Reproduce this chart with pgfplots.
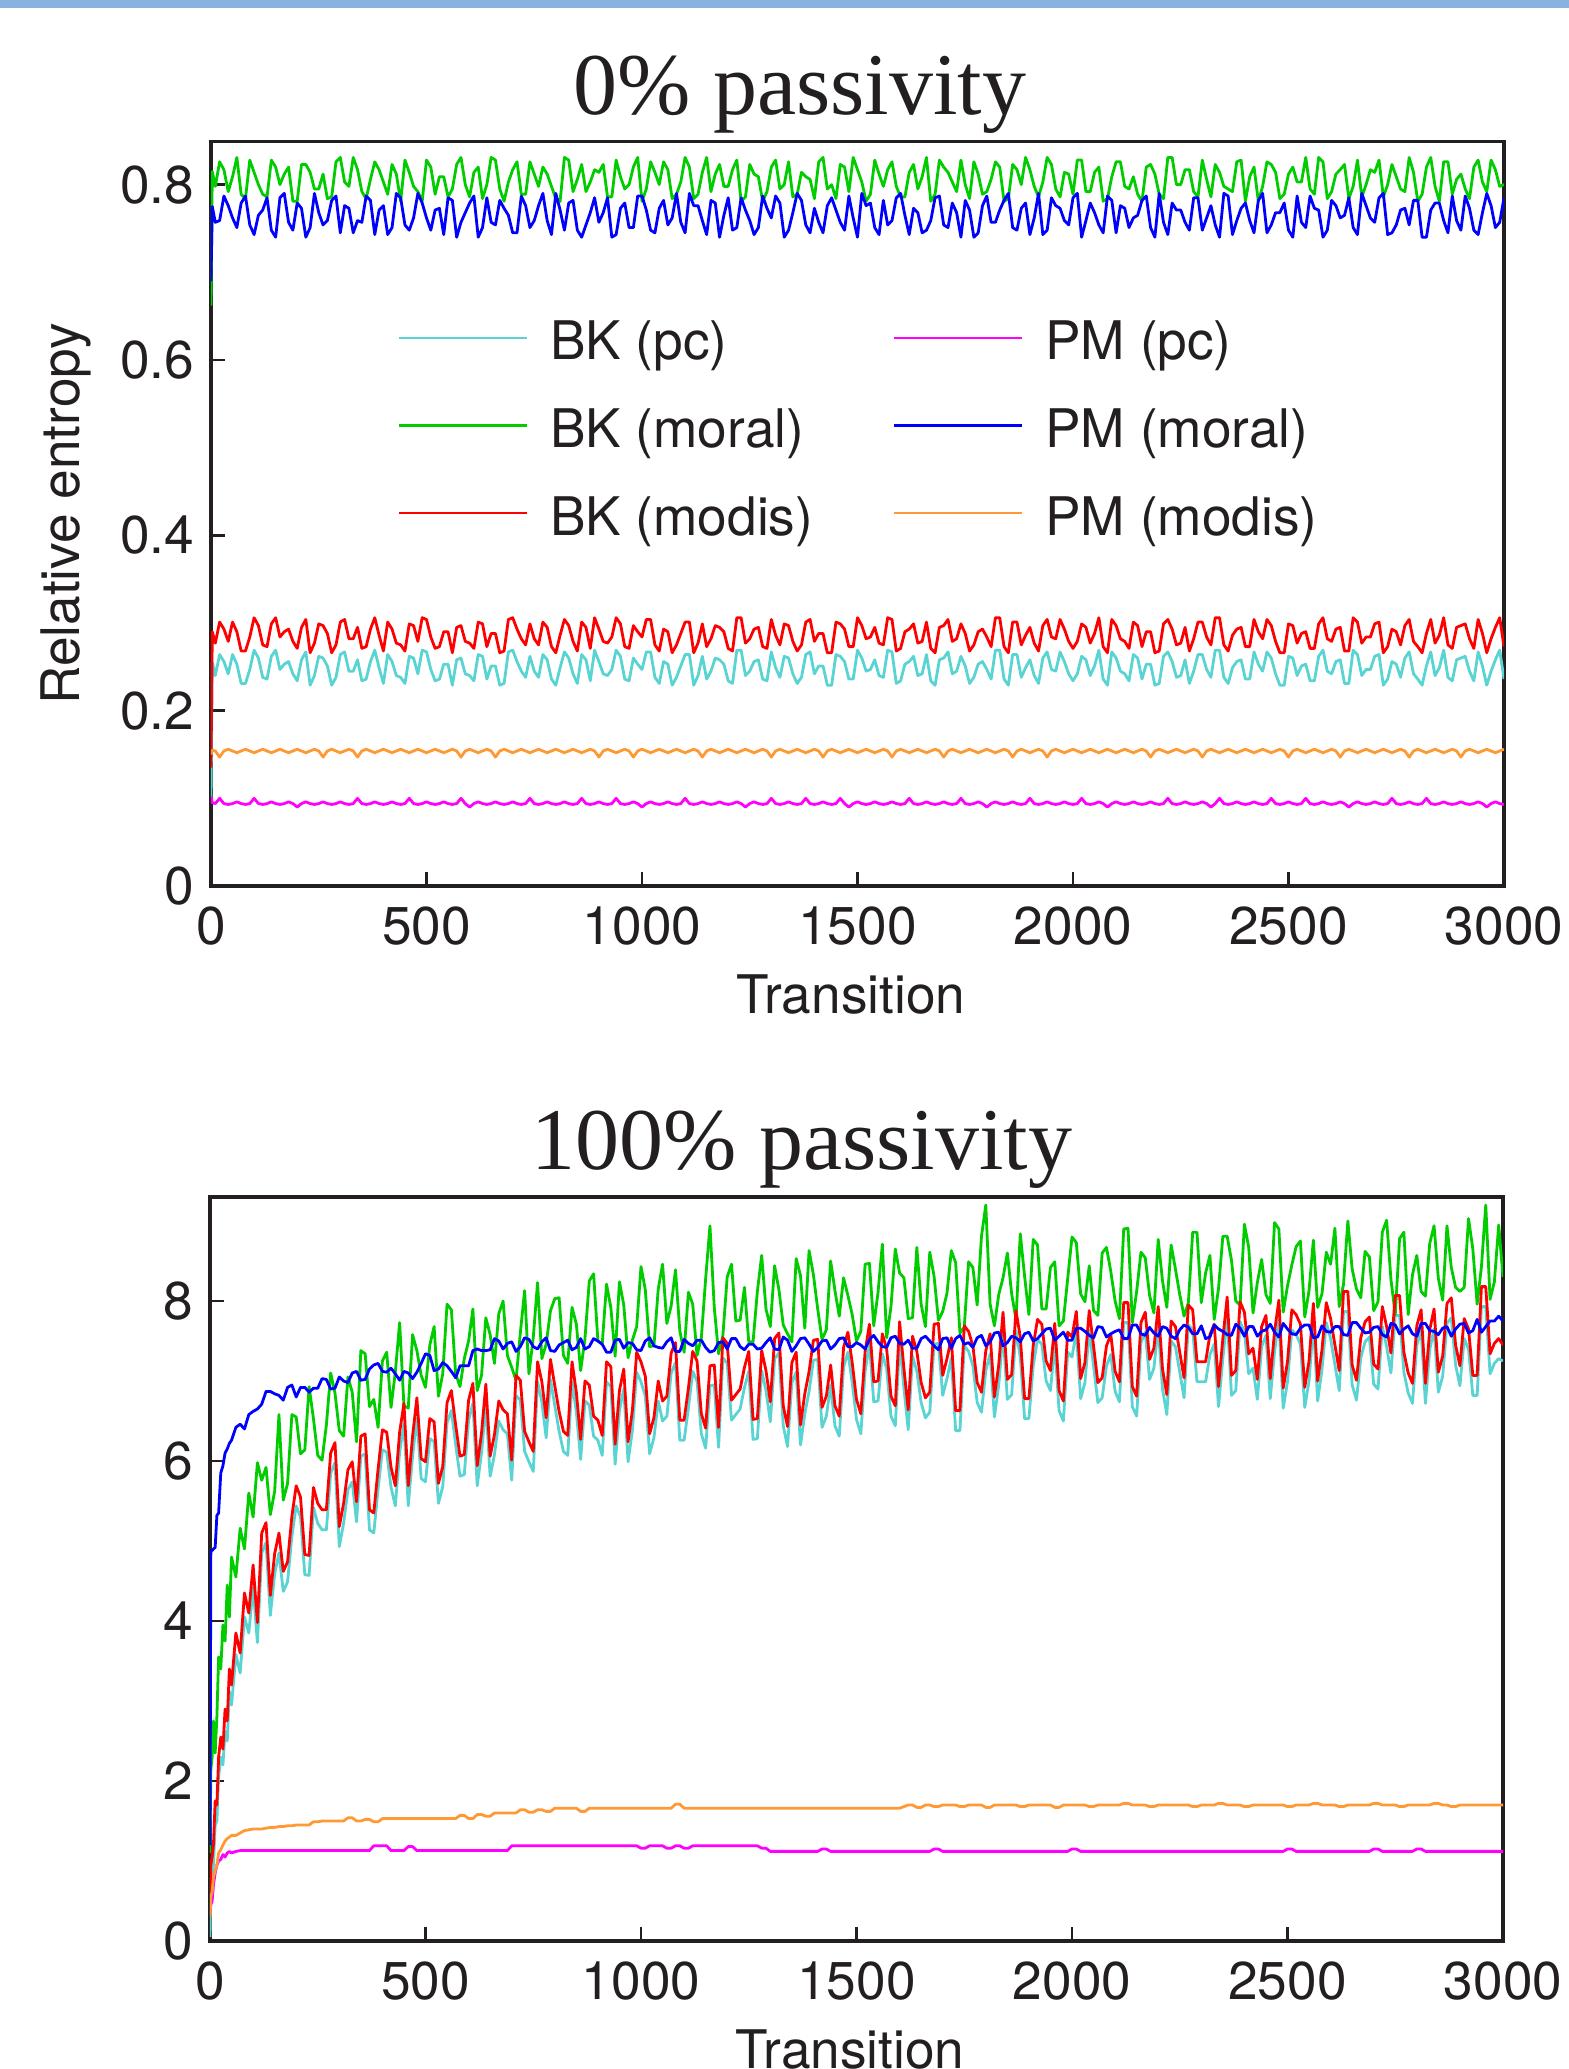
\documentclass[border=0pt]{standalone}
\usepackage{fontspec}
\setmainfont{Liberation Serif}
\newfontfamily\hv{TeX Gyre Heros}
\usepackage{pgfplots}
\usepackage{pgfplotstable}
\pgfplotsset{compat=1.18}
\definecolor{cbkpc}{RGB}{90,211,211}
\definecolor{cbkmoral}{RGB}{0,204,0}
\definecolor{cbkmodis}{RGB}{255,0,0}
\definecolor{cpmpc}{RGB}{255,0,255}
\definecolor{cpmmoral}{RGB}{0,0,255}
\definecolor{cpmmodis}{RGB}{255,153,51}
\definecolor{axisgray}{RGB}{35,31,32}
\definecolor{barblue}{RGB}{135,179,222}

\pgfplotstableread{
x bkpc bkmoral bkmodis pmpc pmmoral pmmodis
0 0.100 0.662 0.135 0.102 0.690 0.150
3 0.255 0.815 0.290 0.095 0.775 0.155
10 .240 .798 .277 .094 .757 .154
20 .264 .826 .301 .100 .759 .147
30 .256 .817 .293 .094 .787 .154
40 .242 .792 .279 .093 .776 .156
50 .264 .809 .301 .094 .762 .154
60 .253 .831 .290 .096 .751 .152
70 .231 .789 .268 .094 .779 .154
80 .231 .784 .268 .093 .787 .156
90 .247 .828 .284 .094 .754 .154
100 .269 .814 .306 .100 .743 .152
110 .260 .800 .297 .094 .765 .154
120 .238 .789 .275 .093 .771 .156
130 .236 .786 .273 .094 .785 .154
140 .262 .828 .299 .096 .748 .152
150 .269 .820 .306 .094 .740 .154
160 .247 .800 .284 .093 .785 .156
170 .253 .812 .290 .094 .790 .154
180 .256 .820 .293 .096 .757 .152
190 .242 .781 .279 .094 .748 .154
200 .234 .781 .271 .090 .779 .156
210 .258 .823 .295 .094 .773 .154
220 .267 .823 .304 .096 .740 .152
230 .229 .814 .266 .094 .751 .154
240 .240 .795 .277 .093 .790 .156
250 .262 .795 .299 .094 .768 .154
260 .260 .812 .297 .096 .754 .147
270 .251 .784 .288 .094 .759 .154
280 .229 .786 .266 .093 .782 .156
290 .238 .826 .275 .094 .787 .154
300 .264 .831 .301 .096 .745 .152
310 .267 .803 .304 .094 .776 .154
320 .245 .798 .282 .093 .773 .156
330 .245 .831 .282 .094 .745 .154
340 .258 .817 .295 .100 .759 .147
350 .234 .792 .271 .094 .757 .154
360 .236 .784 .273 .093 .787 .156
370 .256 .806 .293 .094 .782 .154
380 .269 .826 .306 .096 .743 .152
390 .249 .817 .286 .094 .771 .154
400 .231 .803 .268 .093 .776 .156
410 .264 .789 .301 .094 .743 .154
420 .256 .823 .293 .096 .751 .152
430 .240 .812 .277 .094 .790 .154
440 .238 .781 .275 .093 .785 .156
450 .231 .828 .268 .094 .754 .154
460 .262 .814 .299 .100 .748 .152
470 .260 .798 .297 .094 .762 .154
480 .242 .792 .279 .093 .790 .156
490 .269 .781 .306 .094 .779 .154
500 .267 .828 .304 .096 .762 .152
510 .247 .820 .284 .094 .748 .154
520 .234 .789 .271 .093 .771 .156
530 .236 .809 .273 .094 .773 .154
540 .253 .809 .290 .096 .743 .152
550 .253 .786 .290 .094 .785 .154
560 .229 .795 .266 .093 .782 .156
570 .258 .823 .295 .094 .740 .154
580 .260 .831 .297 .100 .757 .147
590 .242 .800 .279 .094 .768 .154
600 .240 .786 .277 .090 .779 .156
610 .234 .814 .271 .094 .787 .154
620 .264 .820 .301 .096 .740 .152
630 .262 .784 .299 .094 .751 .154
640 .236 .800 .273 .093 .785 .156
650 .251 .831 .288 .094 .757 .154
660 .251 .828 .288 .096 .754 .147
670 .229 .795 .266 .094 .782 .154
680 .231 .781 .268 .093 .773 .156
690 .267 .803 .304 .094 .765 .154
700 .269 .817 .306 .096 .745 .152
710 .256 .826 .293 .094 .745 .154
720 .245 .789 .282 .093 .787 .156
730 .238 .789 .275 .094 .776 .154
740 .262 .826 .299 .100 .751 .152
750 .245 .812 .282 .094 .759 .154
760 .238 .798 .275 .093 .776 .156
770 .264 .820 .301 .094 .790 .154
780 .258 .812 .295 .096 .759 .152
790 .236 .798 .273 .094 .743 .154
800 .229 .784 .266 .093 .790 .156
810 .249 .781 .286 .094 .771 .154
820 .267 .831 .304 .096 .748 .152
830 .260 .828 .297 .094 .779 .154
840 .242 .792 .279 .093 .782 .156
850 .231 .806 .268 .094 .748 .154
860 .264 .823 .301 .100 .740 .152
870 .258 .792 .295 .094 .754 .154
880 .234 .803 .271 .093 .768 .156
890 .269 .817 .306 .094 .785 .154
900 .256 .814 .293 .096 .757 .147
910 .242 .823 .279 .094 .768 .154
920 .240 .786 .277 .093 .785 .156
930 .247 .786 .284 .094 .740 .154
940 .269 .828 .306 .100 .743 .152
950 .262 .809 .299 .094 .773 .154
960 .236 .795 .273 .093 .779 .156
970 .234 .800 .271 .094 .751 .154
980 .260 .820 .297 .096 .751 .147
990 .253 .831 .290 .094 .787 .154
1000 .247 .781 .284 .090 .787 .156
1010 .267 .795 .304 .094 .771 .154
1020 .267 .826 .304 .096 .748 .152
1030 .238 .814 .275 .094 .745 .154
1040 .231 .800 .268 .093 .773 .156
1050 .256 .826 .293 .094 .782 .154
1060 .253 .817 .290 .096 .754 .152
1070 .229 .784 .266 .094 .762 .154
1080 .238 .789 .275 .093 .790 .156
1090 .251 .803 .288 .094 .757 .154
1100 .264 .831 .301 .100 .745 .152
1110 .264 .820 .301 .094 .790 .154
1120 .229 .784 .266 .093 .776 .156
1130 .240 .789 .277 .094 .776 .154
1140 .262 .814 .299 .096 .759 .147
1150 .236 .831 .273 .094 .743 .154
1160 .245 .792 .282 .093 .782 .156
1170 .260 .812 .297 .094 .779 .154
1180 .258 .823 .295 .096 .740 .152
1190 .253 .798 .290 .094 .765 .154
1200 .234 .798 .271 .093 .785 .156
1210 .231 .817 .268 .094 .748 .154
1220 .269 .828 .306 .096 .751 .152
1230 .269 .781 .306 .094 .785 .154
1240 .240 .786 .277 .090 .771 .156
1250 .245 .823 .282 .094 .759 .154
1260 .256 .812 .293 .096 .743 .152
1270 .258 .809 .295 .094 .751 .154
1280 .236 .781 .273 .093 .787 .156
1290 .234 .792 .271 .094 .773 .154
1300 .267 .820 .304 .100 .762 .147
1310 .249 .828 .286 .094 .787 .154
1320 .238 .795 .275 .093 .779 .156
1330 .262 .800 .299 .094 .740 .154
1340 .260 .826 .297 .096 .748 .152
1350 .242 .786 .279 .094 .768 .154
1360 .231 .789 .268 .093 .790 .156
1370 .238 .814 .275 .094 .782 .154
1380 .264 .809 .301 .100 .754 .152
1390 .267 .806 .304 .094 .745 .154
1400 .242 .784 .279 .093 .773 .156
1410 .251 .826 .288 .094 .757 .154
1420 .251 .831 .288 .096 .745 .147
1430 .229 .795 .266 .094 .776 .154
1440 .229 .800 .266 .093 .785 .156
1450 .264 .784 .301 .094 .771 .154
1460 .262 .823 .299 .100 .757 .152
1470 .256 .820 .293 .094 .748 .154
1480 .236 .792 .273 .090 .787 .156
1490 .236 .831 .273 .094 .762 .154
1500 .269 .817 .306 .096 .740 .152
1510 .260 .803 .297 .094 .790 .154
1520 .245 .781 .282 .093 .776 .156
1530 .247 .789 .284 .094 .779 .154
1540 .258 .828 .295 .096 .751 .152
1550 .240 .812 .277 .094 .743 .154
1560 .238 .798 .275 .093 .782 .156
1570 .269 .817 .306 .094 .754 .154
1580 .267 .826 .304 .096 .759 .147
1590 .231 .798 .268 .094 .785 .154
1600 .234 .786 .271 .093 .790 .156
1610 .253 .786 .290 .094 .765 .154
1620 .256 .814 .293 .100 .743 .152
1630 .262 .823 .299 .094 .773 .154
1640 .240 .795 .277 .093 .768 .156
1650 .242 .809 .279 .094 .745 .154
1660 .264 .831 .301 .096 .748 .152
1670 .234 .781 .271 .094 .759 .154
1680 .229 .789 .266 .093 .785 .156
1690 .258 .828 .295 .094 .787 .154
1700 .260 .820 .297 .096 .754 .147
1710 .267 .814 .304 .094 .751 .154
1720 .242 .803 .279 .093 .779 .156
1730 .245 .792 .282 .094 .768 .154
1740 .262 .828 .299 .100 .740 .152
1750 .251 .800 .288 .094 .782 .154
1760 .231 .784 .268 .093 .771 .156
1770 .238 .826 .275 .094 .740 .154
1780 .253 .812 .290 .096 .745 .152
1790 .256 .789 .293 .094 .776 .154
1800 .247 .792 .284 .090 .787 .156
1810 .236 .806 .273 .094 .757 .154
1820 .269 .826 .306 .096 .757 .152
1830 .269 .820 .306 .094 .771 .154
1840 .236 .781 .273 .093 .782 .156
1850 .229 .784 .266 .094 .790 .154
1860 .264 .823 .301 .096 .751 .147
1870 .264 .817 .301 .094 .748 .154
1880 .238 .800 .275 .093 .773 .156
1890 .249 .831 .286 .094 .779 .154
1900 .258 .817 .295 .100 .743 .152
1910 .240 .798 .277 .094 .762 .154
1920 .231 .786 .268 .093 .790 .156
1930 .260 .803 .297 .094 .743 .154
1940 .267 .831 .304 .096 .748 .147
1950 .247 .823 .284 .094 .785 .154
1960 .245 .795 .282 .093 .776 .156
1970 .267 .786 .304 .094 .773 .154
1980 .256 .814 .293 .096 .759 .152
1990 .242 .812 .279 .094 .754 .154
2000 .234 .789 .271 .093 .785 .156
2010 .242 .828 .279 .094 .790 .154
2020 .262 .828 .299 .100 .740 .152
2030 .258 .792 .295 .094 .759 .154
2040 .240 .792 .277 .093 .779 .156
2050 .251 .814 .288 .094 .768 .154
2060 .269 .820 .306 .096 .754 .152
2070 .236 .781 .273 .094 .745 .154
2080 .229 .784 .266 .090 .787 .156
2090 .267 .809 .304 .094 .782 .154
2100 .260 .826 .297 .096 .745 .152
2110 .245 .826 .282 .094 .776 .154
2120 .242 .798 .279 .093 .773 .156
2130 .234 .795 .271 .094 .751 .154
2140 .264 .809 .301 .096 .762 .152
2150 .260 .789 .297 .094 .765 .154
2160 .236 .781 .273 .093 .782 .156
2170 .253 .820 .290 .094 .787 .154
2180 .253 .823 .290 .096 .751 .147
2190 .229 .812 .266 .094 .740 .154
2200 .231 .789 .268 .093 .790 .156
2210 .262 .784 .299 .094 .757 .154
2220 .267 .831 .304 .100 .743 .152
2230 .256 .831 .293 .094 .779 .154
2240 .238 .800 .275 .093 .771 .156
2250 .240 .800 .277 .094 .771 .154
2260 .258 .817 .295 .096 .757 .152
2270 .231 .817 .268 .094 .748 .154
2280 .245 .792 .282 .093 .785 .156
2290 .264 .786 .301 .094 .785 .154
2300 .264 .828 .301 .096 .748 .147
2310 .247 .806 .284 .094 .762 .154
2320 .238 .786 .275 .090 .776 .156
2330 .269 .823 .306 .094 .754 .154
2340 .269 .814 .306 .100 .740 .152
2350 .238 .798 .275 .094 .790 .154
2360 .231 .795 .268 .093 .787 .156
2370 .249 .792 .286 .094 .743 .154
2380 .256 .826 .293 .096 .759 .152
2390 .258 .828 .295 .094 .773 .154
2400 .236 .781 .273 .093 .779 .156
2410 .236 .809 .273 .094 .759 .154
2420 .267 .820 .304 .096 .745 .152
2430 .253 .781 .290 .094 .782 .154
2440 .245 .798 .282 .093 .790 .156
2450 .267 .826 .304 .094 .745 .154
2460 .260 .823 .297 .100 .754 .152
2470 .242 .814 .279 .094 .768 .154
2480 .229 .784 .266 .093 .768 .156
2490 .229 .789 .266 .094 .779 .154
2500 .262 .812 .299 .096 .748 .147
2510 .260 .820 .297 .094 .740 .154
2520 .240 .803 .277 .093 .787 .156
2530 .251 .803 .288 .094 .757 .154
2540 .253 .831 .290 .100 .751 .152
2550 .234 .795 .271 .094 .787 .154
2560 .234 .789 .271 .093 .773 .156
2570 .262 .831 .299 .094 .771 .154
2580 .269 .826 .306 .096 .740 .152
2590 .245 .784 .282 .094 .748 .154
2600 .242 .792 .279 .093 .782 .156
2610 .256 .812 .293 .094 .776 .154
2620 .258 .817 .295 .096 .762 .147
2630 .231 .823 .268 .094 .765 .154
2640 .231 .784 .268 .090 .785 .156
2650 .269 .798 .306 .094 .751 .154
2660 .264 .828 .301 .096 .743 .152
2670 .240 .786 .277 .094 .790 .154
2680 .247 .800 .284 .093 .776 .156
2690 .247 .817 .284 .094 .762 .154
2700 .262 .814 .299 .096 .757 .152
2710 .264 .828 .301 .094 .785 .154
2720 .229 .786 .266 .093 .790 .156
2730 .236 .800 .273 .094 .743 .154
2740 .256 .823 .293 .100 .745 .152
2750 .253 .809 .290 .094 .754 .154
2760 .238 .795 .275 .093 .771 .156
2770 .260 .792 .297 .094 .773 .154
2780 .267 .831 .304 .096 .754 .147
2790 .242 .814 .279 .094 .782 .154
2800 .236 .781 .273 .093 .782 .156
2810 .229 .789 .266 .094 .740 .154
2820 .251 .820 .288 .100 .740 .152
2830 .267 .831 .304 .094 .771 .154
2840 .240 .798 .277 .093 .779 .156
2850 .249 .781 .286 .094 .779 .154
2860 .269 .826 .306 .096 .759 .152
2870 .238 .826 .275 .094 .745 .154
2880 .234 .789 .271 .093 .787 .156
2890 .258 .806 .295 .094 .759 .154
2900 .260 .812 .297 .096 .748 .147
2910 .262 .795 .299 .094 .787 .154
2920 .245 .784 .282 .093 .773 .156
2930 .234 .820 .271 .094 .748 .154
2940 .267 .828 .304 .096 .743 .152
2950 .251 .803 .288 .094 .768 .154
2960 .229 .792 .266 .090 .790 .156
2970 .245 .828 .282 .094 .776 .154
2980 .258 .817 .295 .096 .751 .152
2990 .269 .798 .306 .094 .757 .154
3000 .236 .800 .273 .093 .785 .156
}\toptable

\pgfplotstableread{
x bkpc bkmoral bkmodis pmpc pmmoral pmmodis
0 0.05 1.10 0.50 0.35 1.20 0.30
2 0.75 2.15 0.95 0.45 4.88 0.55
5 0.85 2.30 1.05 0.50 4.88 0.62
8 0.95 2.75 1.20 0.70 4.90 0.80
12 1.45 2.35 1.75 0.85 4.92 0.88
16 1.50 2.80 1.70 0.95 5.32 0.95
20 2.05 3.55 2.30 1.00 5.35 1.10
25 2.30 3.40 2.55 1.02 5.85 1.14
30 2.20 3.95 2.40 1.08 5.94 1.20
35 2.62 3.75 2.90 1.05 6.10 1.25
40 2.50 4.45 2.75 1.10 6.15 1.28
45 3.12 4.05 3.40 1.12 6.22 1.30
50 2.95 4.80 3.20 1.10 6.26 1.32
60 3.58 4.55 3.85 1.12 6.42 1.32
70 3.35 5.16 3.60 1.13 6.46 1.35
80 4.05 4.90 4.35 1.13 6.40 1.38
90 3.85 5.60 4.10 1.13 6.58 1.39
100 4.42 5.30 4.70 1.13 6.62 1.40
110 3.73 5.98 3.98 1.13 6.65 1.40
120 4.85 5.76 5.10 1.13 6.71 1.40
130 4.98 5.92 5.23 1.13 6.87 1.41
140 4.07 5.33 4.32 1.13 6.87 1.42
150 4.59 5.62 4.84 1.13 6.84 1.42
160 4.85 6.58 5.10 1.13 6.82 1.43
170 4.37 5.51 4.62 1.13 6.76 1.43
180 4.49 5.72 4.74 1.13 6.92 1.44
190 5.06 6.58 5.31 1.13 6.95 1.44
200 5.44 6.55 5.69 1.13 6.80 1.45
210 5.30 6.09 5.55 1.13 6.92 1.45
220 4.58 6.14 4.83 1.13 6.92 1.45
230 4.57 6.93 4.82 1.13 6.86 1.45
240 5.42 6.53 5.67 1.13 6.91 1.49
250 5.22 6.07 5.47 1.13 6.91 1.49
260 5.14 6.01 5.39 1.13 7.03 1.50
270 5.14 6.45 5.39 1.13 7.02 1.50
280 5.85 7.10 6.10 1.13 6.90 1.50
290 5.98 6.85 6.23 1.13 6.91 1.50
300 4.93 6.38 5.18 1.13 7.05 1.50
310 5.22 6.31 5.47 1.13 7.00 1.50
320 5.64 7.05 5.89 1.13 6.98 1.54
330 5.74 6.86 5.99 1.13 7.10 1.54
340 5.24 6.24 5.49 1.13 7.12 1.50
350 6.06 7.38 6.31 1.13 7.01 1.50
360 6.09 7.34 6.34 1.13 7.02 1.52
370 5.14 6.68 5.39 1.13 7.15 1.52
380 5.10 6.77 5.35 1.19 7.20 1.49
390 5.65 6.42 5.90 1.19 7.22 1.49
400 6.14 7.25 6.39 1.19 7.12 1.53
410 6.11 7.36 6.36 1.19 7.11 1.53
420 5.67 6.67 5.92 1.13 7.16 1.53
430 5.44 7.11 5.69 1.13 7.09 1.53
440 6.11 7.73 6.36 1.13 7.01 1.53
450 6.47 6.69 6.72 1.13 7.12 1.53
460 5.44 6.66 5.69 1.18 7.10 1.53
470 6.06 7.58 6.31 1.18 7.03 1.53
480 6.54 7.38 6.79 1.13 7.11 1.53
490 5.78 7.07 6.03 1.13 7.22 1.53
500 5.74 6.92 5.99 1.13 7.34 1.53
510 6.28 7.45 6.53 1.13 7.32 1.53
520 6.24 7.68 6.49 1.13 7.13 1.53
530 5.47 6.81 5.72 1.13 7.15 1.53
540 5.68 7.09 5.93 1.13 7.23 1.53
550 6.48 7.96 6.73 1.13 7.19 1.53
560 6.63 7.89 6.88 1.13 7.12 1.53
570 6.20 7.09 6.45 1.13 7.04 1.53
580 5.81 6.93 6.06 1.13 7.19 1.57
590 5.83 7.28 6.08 1.13 7.19 1.57
600 6.51 7.50 6.76 1.13 7.19 1.53
610 6.72 7.90 6.97 1.13 7.38 1.53
620 5.69 6.88 5.94 1.13 7.40 1.58
630 6.10 7.07 6.35 1.13 7.38 1.58
640 6.71 7.79 6.96 1.13 7.38 1.56
650 5.81 7.58 6.06 1.13 7.39 1.56
660 6.08 7.22 6.33 1.13 7.53 1.60
670 6.50 7.84 6.75 1.13 7.50 1.60
680 6.39 8.00 6.64 1.13 7.40 1.60
690 6.34 7.32 6.59 1.13 7.47 1.60
700 5.76 7.17 6.01 1.19 7.49 1.60
710 6.82 7.01 7.07 1.19 7.37 1.60
720 6.76 7.60 7.01 1.19 7.43 1.64
730 6.12 8.13 6.37 1.19 7.54 1.64
740 5.99 7.09 6.24 1.19 7.52 1.61
750 5.87 7.54 6.12 1.19 7.43 1.61
760 6.99 8.23 7.24 1.19 7.40 1.64
770 6.74 7.28 6.99 1.19 7.49 1.64
780 6.29 7.46 6.54 1.19 7.54 1.62
790 7.02 7.88 7.27 1.19 7.38 1.62
800 6.69 8.03 6.94 1.19 7.37 1.66
810 6.37 8.04 6.62 1.19 7.45 1.66
820 6.12 7.32 6.37 1.19 7.48 1.66
830 6.07 7.22 6.32 1.19 7.51 1.66
840 6.99 7.92 7.24 1.19 7.39 1.66
850 6.61 7.71 6.86 1.19 7.42 1.66
860 6.02 7.13 6.27 1.19 7.53 1.62
870 6.75 7.53 7.00 1.19 7.40 1.62
880 6.70 8.25 6.95 1.19 7.43 1.66
890 6.31 8.34 6.56 1.19 7.53 1.66
900 6.26 7.50 6.51 1.19 7.50 1.66
910 6.07 7.46 6.32 1.19 7.46 1.66
920 6.99 8.21 7.24 1.19 7.36 1.66
930 6.93 7.92 7.18 1.19 7.36 1.66
940 5.96 7.31 6.21 1.19 7.51 1.66
950 6.63 8.24 6.88 1.19 7.52 1.66
960 6.90 7.95 7.15 1.19 7.41 1.66
970 5.99 7.29 6.24 1.19 7.48 1.66
980 6.38 7.51 6.63 1.19 7.47 1.66
990 7.11 7.68 7.36 1.19 7.39 1.66
1000 6.99 8.43 7.24 1.16 7.38 1.66
1010 6.81 8.14 7.06 1.16 7.50 1.66
1020 6.09 7.43 6.34 1.19 7.54 1.66
1030 6.29 7.44 6.54 1.19 7.44 1.66
1040 6.75 8.15 7.00 1.19 7.42 1.66
1050 6.50 8.46 6.75 1.19 7.41 1.66
1060 6.56 7.72 6.81 1.16 7.49 1.66
1070 7.10 7.94 7.35 1.16 7.54 1.66
1080 7.23 8.39 7.48 1.19 7.37 1.71
1090 6.26 7.63 6.51 1.19 7.37 1.71
1100 6.26 7.36 6.51 1.16 7.52 1.66
1110 6.66 8.11 6.91 1.16 7.47 1.66
1120 7.12 7.96 7.37 1.19 7.44 1.66
1130 7.00 7.32 7.25 1.19 7.51 1.66
1140 6.34 7.54 6.59 1.19 7.51 1.66
1150 6.16 8.28 6.41 1.19 7.42 1.66
1160 6.94 8.94 7.19 1.19 7.36 1.66
1170 6.95 7.92 7.20 1.19 7.38 1.66
1180 6.17 7.34 6.42 1.19 7.48 1.66
1190 7.29 7.57 7.54 1.19 7.49 1.66
1200 7.22 8.30 7.47 1.19 7.40 1.66
1210 6.51 8.46 6.76 1.19 7.53 1.66
1220 6.58 7.75 6.83 1.19 7.53 1.66
1230 6.65 7.76 6.90 1.19 7.43 1.66
1240 6.92 8.17 7.17 1.19 7.39 1.66
1250 7.12 7.49 7.37 1.19 7.46 1.66
1260 6.27 7.49 6.52 1.19 7.46 1.66
1270 6.28 8.12 6.53 1.19 7.40 1.66
1280 7.13 8.57 7.38 1.16 7.41 1.66
1290 6.88 7.90 7.13 1.16 7.48 1.66
1300 6.49 7.68 6.74 1.12 7.54 1.66
1310 7.28 8.44 7.53 1.12 7.40 1.66
1320 7.35 8.14 7.60 1.12 7.39 1.66
1330 6.44 7.70 6.69 1.12 7.55 1.66
1340 6.18 7.59 6.43 1.12 7.51 1.66
1350 6.98 7.49 7.23 1.12 7.37 1.66
1360 7.11 8.53 7.36 1.12 7.44 1.66
1370 6.20 8.32 6.45 1.12 7.53 1.66
1380 6.59 7.66 6.84 1.12 7.54 1.66
1390 6.87 8.63 7.12 1.12 7.46 1.66
1400 7.26 8.33 7.51 1.12 7.37 1.66
1410 7.27 7.90 7.52 1.12 7.42 1.66
1420 6.42 7.52 6.67 1.15 7.50 1.66
1430 6.56 7.64 6.81 1.15 7.51 1.66
1440 6.95 8.50 7.20 1.12 7.40 1.66
1450 6.44 8.13 6.69 1.12 7.45 1.66
1460 6.31 7.81 6.56 1.12 7.53 1.66
1470 7.17 8.29 7.42 1.12 7.54 1.66
1480 7.36 8.07 7.61 1.12 7.43 1.66
1490 6.98 7.83 7.23 1.12 7.43 1.66
1500 6.52 7.50 6.77 1.12 7.48 1.66
1510 6.34 7.62 6.59 1.12 7.45 1.66
1520 7.12 8.46 7.37 1.12 7.40 1.66
1530 7.46 8.47 7.71 1.12 7.52 1.66
1540 6.74 7.69 6.99 1.12 7.57 1.66
1550 6.75 8.11 7.00 1.12 7.49 1.66
1560 7.34 8.71 7.59 1.12 7.43 1.66
1570 7.15 7.54 7.40 1.12 7.42 1.66
1580 6.56 7.93 6.81 1.12 7.54 1.66
1590 6.44 8.65 6.69 1.12 7.56 1.66
1600 7.49 8.35 7.74 1.12 7.47 1.66
1610 6.91 8.29 7.16 1.12 7.46 1.68
1620 6.39 7.78 6.64 1.12 7.51 1.70
1630 7.31 7.79 7.56 1.12 7.41 1.70
1640 7.12 8.67 7.37 1.12 7.41 1.67
1650 6.73 7.96 6.98 1.12 7.53 1.67
1660 6.54 7.68 6.79 1.12 7.56 1.70
1670 6.61 8.61 6.86 1.12 7.50 1.70
1680 7.46 8.31 7.71 1.15 7.44 1.68
1690 7.47 7.76 7.72 1.15 7.39 1.68
1700 6.82 7.87 7.07 1.12 7.53 1.70
1710 7.03 8.10 7.28 1.12 7.54 1.70
1720 7.29 8.63 7.54 1.12 7.41 1.70
1730 6.38 8.48 6.63 1.12 7.53 1.70
1740 6.38 7.60 6.63 1.12 7.57 1.68
1750 7.44 7.67 7.69 1.12 7.46 1.68
1760 7.37 8.49 7.62 1.12 7.48 1.70
1770 7.19 8.42 7.44 1.12 7.42 1.70
1780 6.73 7.95 6.98 1.12 7.54 1.70
1790 6.61 8.81 6.86 1.12 7.57 1.70
1800 7.13 9.20 7.38 1.12 7.44 1.67
1810 7.34 7.96 7.59 1.12 7.49 1.67
1820 6.55 7.69 6.80 1.12 7.60 1.70
1830 6.95 8.08 7.20 1.12 7.61 1.70
1840 7.61 8.29 7.86 1.12 7.44 1.70
1850 6.77 8.60 7.02 1.12 7.48 1.70
1860 6.83 8.09 7.08 1.12 7.56 1.70
1870 7.63 7.77 7.88 1.12 7.54 1.70
1880 7.30 8.84 7.55 1.12 7.49 1.68
1890 6.53 8.31 6.78 1.12 7.59 1.68
1900 6.53 7.83 6.78 1.12 7.61 1.70
1910 7.19 8.77 7.44 1.12 7.50 1.70
1920 7.52 8.70 7.77 1.12 7.53 1.70
1930 7.46 7.90 7.71 1.12 7.59 1.70
1940 7.00 7.90 7.25 1.12 7.65 1.70
1950 6.88 8.42 7.13 1.12 7.66 1.70
1960 7.47 8.49 7.72 1.12 7.51 1.67
1970 6.63 7.69 6.88 1.12 7.56 1.67
1980 6.50 7.75 6.75 1.12 7.61 1.70
1990 7.36 8.28 7.61 1.12 7.51 1.70
2000 7.30 8.80 7.55 1.15 7.51 1.70
2010 7.62 8.73 7.87 1.15 7.66 1.70
2020 6.78 8.09 7.03 1.12 7.66 1.70
2030 6.98 7.99 7.23 1.12 7.62 1.70
2040 7.63 8.44 7.88 1.12 7.57 1.68
2050 7.19 7.88 7.44 1.12 7.54 1.68
2060 6.73 7.82 6.98 1.12 7.68 1.70
2070 6.79 8.60 7.04 1.12 7.67 1.70
2080 7.19 8.67 7.44 1.12 7.55 1.70
2090 7.33 8.37 7.58 1.12 7.59 1.70
2100 6.87 8.00 7.12 1.12 7.62 1.70
2110 6.74 7.78 6.99 1.12 7.64 1.70
2120 7.73 8.90 7.98 1.12 7.53 1.72
2130 7.73 8.91 7.98 1.12 7.53 1.72
2140 6.68 7.73 6.93 1.12 7.70 1.70
2150 6.56 8.12 6.81 1.12 7.70 1.70
2160 7.48 8.61 7.73 1.12 7.59 1.70
2170 7.61 8.54 7.86 1.12 7.57 1.70
2180 7.02 8.07 7.27 1.12 7.67 1.68
2190 7.16 7.85 7.41 1.12 7.60 1.68
2200 7.68 8.77 7.93 1.12 7.56 1.70
2210 6.90 8.25 7.15 1.12 7.68 1.70
2220 6.58 7.92 6.83 1.12 7.66 1.70
2230 7.50 8.70 7.75 1.12 7.56 1.70
2240 7.43 8.40 7.68 1.12 7.53 1.70
2250 7.11 8.08 7.36 1.12 7.64 1.70
2260 6.79 7.81 7.04 1.12 7.70 1.70
2270 7.70 7.98 7.95 1.12 7.67 1.70
2280 7.64 8.86 7.89 1.12 7.59 1.68
2290 6.99 8.86 7.24 1.12 7.59 1.68
2300 6.99 7.98 7.24 1.12 7.69 1.70
2310 6.99 8.35 7.24 1.12 7.53 1.70
2320 7.33 8.57 7.58 1.12 7.55 1.70
2330 7.46 7.77 7.71 1.12 7.70 1.70
2340 6.68 8.16 6.93 1.12 7.65 1.72
2350 7.28 8.81 7.53 1.12 7.62 1.72
2360 7.80 8.81 8.05 1.12 7.58 1.70
2370 6.82 8.51 7.07 1.12 7.57 1.70
2380 6.88 8.00 7.13 1.12 7.71 1.70
2390 7.74 7.95 7.99 1.12 7.66 1.70
2400 7.61 8.96 7.86 1.12 7.56 1.68
2410 7.09 8.67 7.34 1.12 7.68 1.68
2420 7.16 7.85 7.41 1.12 7.68 1.70
2430 6.77 8.23 7.02 1.12 7.56 1.70
2440 7.43 8.52 7.68 1.12 7.62 1.70
2450 7.57 8.08 7.82 1.12 7.64 1.70
2460 6.78 7.97 7.03 1.12 7.71 1.70
2470 7.37 8.98 7.62 1.12 7.61 1.70
2480 7.76 8.90 8.01 1.12 7.55 1.70
2490 6.66 7.86 6.91 1.12 7.72 1.70
2500 6.99 8.19 7.24 1.15 7.65 1.68
2510 7.64 8.45 7.89 1.15 7.59 1.68
2520 7.58 8.68 7.83 1.12 7.58 1.70
2530 7.46 8.75 7.71 1.12 7.66 1.70
2540 6.67 7.80 6.92 1.12 7.70 1.70
2550 7.00 8.13 7.25 1.12 7.70 1.70
2560 7.72 8.76 7.97 1.12 7.54 1.72
2570 6.75 7.92 7.00 1.12 7.55 1.72
2580 7.14 8.09 7.39 1.12 7.69 1.70
2590 7.73 8.61 7.98 1.12 7.62 1.70
2600 7.53 8.46 7.78 1.12 7.61 1.70
2610 7.20 8.91 7.45 1.12 7.68 1.70
2620 6.88 7.93 7.13 1.12 7.68 1.68
2630 7.87 8.21 8.12 1.12 7.58 1.68
2640 7.87 9.00 8.12 1.12 7.57 1.70
2650 6.95 8.40 7.20 1.12 7.73 1.70
2660 6.76 8.15 7.01 1.12 7.73 1.70
2670 7.29 8.04 7.54 1.12 7.66 1.70
2680 7.49 8.62 7.74 1.12 7.60 1.70
2690 7.55 8.55 7.80 1.12 7.61 1.70
2700 6.96 7.88 7.21 1.15 7.67 1.72
2710 6.90 7.99 7.15 1.15 7.68 1.72
2720 7.68 8.86 7.93 1.12 7.58 1.70
2730 7.43 9.01 7.68 1.12 7.55 1.70
2740 7.10 8.27 7.35 1.12 7.72 1.70
2750 7.82 7.83 8.07 1.12 7.70 1.70
2760 7.82 8.78 8.07 1.12 7.59 1.68
2770 7.11 8.86 7.36 1.12 7.65 1.68
2780 6.85 7.83 7.10 1.12 7.69 1.70
2790 6.72 8.33 6.97 1.12 7.59 1.70
2800 7.44 8.57 7.69 1.15 7.56 1.70
2810 7.64 8.12 7.89 1.15 7.72 1.70
2820 6.72 8.06 6.97 1.12 7.72 1.70
2830 7.39 8.72 7.64 1.12 7.63 1.70
2840 7.65 8.94 7.90 1.12 7.62 1.72
2850 6.86 8.28 7.11 1.12 7.58 1.72
2860 7.06 8.01 7.31 1.12 7.66 1.70
2870 7.72 8.94 7.97 1.12 7.68 1.70
2880 7.79 8.42 8.04 1.12 7.56 1.68
2890 7.20 8.17 7.45 1.12 7.65 1.68
2900 6.94 8.12 7.19 1.12 7.71 1.70
2910 7.53 8.17 7.78 1.12 7.72 1.70
2920 7.40 9.03 7.65 1.12 7.60 1.70
2930 6.82 8.65 7.07 1.12 7.63 1.70
2940 6.82 7.96 7.07 1.12 7.77 1.70
2950 7.93 8.43 8.18 1.12 7.61 1.70
2960 7.93 9.20 8.18 1.12 7.68 1.70
2970 7.09 8.02 7.34 1.12 7.75 1.70
2980 7.22 8.24 7.47 1.12 7.75 1.70
2990 7.28 8.95 7.53 1.12 7.81 1.70
3000 7.25 8.30 7.45 1.12 7.75 1.70
}\bottable

\pgfplotsset{
  panel/.style={
    scale only axis,
    width=323.25pt,
    height=186pt,
    xmin=0, xmax=3000,
    xtick={0,500,1000,1500,2000,2500,3000},
    scaled ticks=false,
    /pgf/number format/1000 sep={},
    /pgf/number format/assume math mode=true,
    tick label style={font=\hv\fontsize{13.3}{16}\selectfont, text=axisgray},
    xticklabel style={anchor=base, inner sep=0pt, yshift=-14.75pt},
    yticklabel style={anchor=east, inner sep=0pt, xshift=-4pt},
    xlabel={Transition},
    every axis x label/.style={at={(axis description cs:0.495,0)}, anchor=base, inner sep=0pt, yshift=-32pt, font=\hv\fontsize{13.3}{16}\selectfont, text=axisgray},
    every axis y label/.style={at={(axis description cs:0,0.5)}, xshift=-36.25pt, rotate=90, anchor=center, inner sep=0pt, font=\hv\fontsize{13.3}{16}\selectfont, text=axisgray},
    axis line style={line width=0.8pt, draw=axisgray},
    tick align=inside,
    xtick pos=left, ytick pos=left,
    major tick length=3.4pt,
    every tick/.style={draw=axisgray, line width=0.6pt},
    no markers,
    every axis plot/.append style={line width=0.7pt, line join=round},
  }
}

\begin{document}
\begin{tikzpicture}
\path[use as bounding box] (0,0) rectangle (392.25pt,517.25pt);
\fill[barblue] (0,515.25pt) rectangle (392.25pt,517.25pt);
\node[anchor=base, font=\fontsize{22}{26}\selectfont, text=axisgray, inner sep=0pt] at (200pt,488.5pt) {0\% passivity};
\node[anchor=base, font=\fontsize{22}{26}\selectfont, text=axisgray, inner sep=0pt] at (200.5pt,224.75pt) {100\% passivity};

\begin{axis}[panel,
  at={(52.75pt,295.75pt)}, anchor=south west,
  height=186.08pt,
  ymin=0, ymax=0.849,
  ytick={0,0.2,0.4,0.6,0.8},
  ylabel={Relative entropy},
  legend columns=2,
  legend style={draw=none, fill=none, inner sep=0pt, outer sep=0pt,
    at={(0.1446,0.7605)}, anchor=north west,
    font=\hv\fontsize{13.3}{16}\selectfont, text=axisgray,
    row sep=8.9pt,
    cells={anchor=base west},
    nodes={inner sep=0pt, text height=10pt, text depth=3pt},
    /tikz/every odd column/.append style={column sep=5.5pt},
    /tikz/every even column/.append style={column sep=20pt}},
  legend image code/.code={\draw[#1, line width=0.55pt] (0pt,5.5pt) -- (32pt,5.5pt);},
]
\addplot[cbkpc, forget plot] table[x=x, y=bkpc] {\toptable};
\addplot[cbkmodis, forget plot] table[x=x, y=bkmodis] {\toptable};
\addplot[cpmpc, forget plot] table[x=x, y=pmpc] {\toptable};
\addplot[cpmmodis, forget plot] table[x=x, y=pmmodis] {\toptable};
\addplot[cbkmoral, forget plot] table[x=x, y=bkmoral] {\toptable};
\addplot[cpmmoral, forget plot] table[x=x, y=pmmoral] {\toptable};
\addlegendimage{cbkpc}\addlegendentry{BK (pc)}
\addlegendimage{cpmpc}\addlegendentry{PM (pc)}
\addlegendimage{cbkmoral}\addlegendentry{BK (moral)}
\addlegendimage{cpmmoral}\addlegendentry{PM (moral)}
\addlegendimage{cbkmodis}\addlegendentry{BK (modis)}
\addlegendimage{cpmmodis}\addlegendentry{PM (modis)}
\end{axis}

\begin{axis}[panel,
  at={(52.5pt,32pt)}, anchor=south west,
  ymin=0, ymax=9.3,
  ytick={0,2,4,6,8},
]
\addplot[cbkpc] table[x=x, y=bkpc] {\bottable};
\addplot[cbkmoral] table[x=x, y=bkmoral] {\bottable};
\addplot[cbkmodis] table[x=x, y=bkmodis] {\bottable};
\addplot[cpmpc] table[x=x, y=pmpc] {\bottable};
\addplot[cpmmodis] table[x=x, y=pmmodis] {\bottable};
\addplot[cpmmoral] table[x=x, y=pmmoral] {\bottable};
\end{axis}
\end{tikzpicture}
\end{document}
